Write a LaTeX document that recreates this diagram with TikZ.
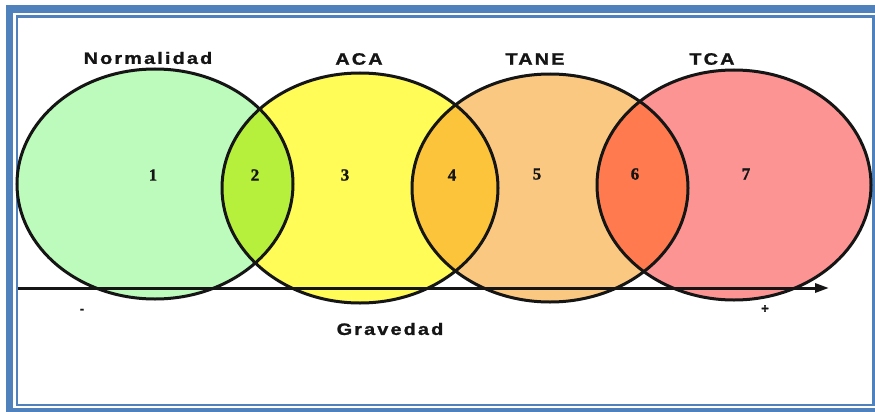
\documentclass[tikz,border=0pt]{standalone}
\usepackage{fontspec}
\setmainfont{Liberation Sans}
\newfontfamily\labfont[LetterSpace=11,FakeBold=1.2]{Liberation Sans Bold}
\newfontfamily\numfont[FakeBold=1.2]{Liberation Serif Bold}
\newfontfamily\sgnfont[FakeBold=1]{Liberation Sans Bold}
\usetikzlibrary{arrows.meta}
\definecolor{frameblue}{HTML}{4F81BD}
\definecolor{cgreen}{HTML}{BDFBBD}
\definecolor{cyellow}{HTML}{FFFB57}
\definecolor{corange}{HTML}{FBC882}
\definecolor{cred}{HTML}{FC9494}
\definecolor{cgy}{HTML}{B6F03C}
\definecolor{cyo}{HTML}{FBC43A}
\definecolor{cor}{HTML}{FF7A4E}
\definecolor{ink}{HTML}{151515}
\newcommand{\widetext}[1]{\scalebox{1.2}[1]{#1}}
\begin{document}
\begin{tikzpicture}[x=1pt,y=-1pt,
  lab/.style={font=\labfont\fontsize{16.5}{18}\selectfont, text=ink, inner sep=0pt},
  num/.style={font=\numfont\fontsize{17}{19}\selectfont, text=ink, inner sep=0pt},
  sgn/.style={font=\sgnfont\fontsize{13}{15}\selectfont, text=ink, inner sep=0pt},
  ring/.style={draw=ink, line width=3pt}]
\useasboundingbox (0,0) rectangle (875,412);
\clip (0,0) rectangle (875,412);
\fill[white] (0,0) rectangle (875,412);
% frame
\draw[frameblue, line width=7.5pt] (9.5,9) rectangle (880,411.5);
\draw[frameblue, line width=2.5pt] (17,16.5) rectangle (873.5,405);
% ellipses
\def\EA{(155,184) ellipse [x radius=138, y radius=115]}
\def\EB{(360,188) ellipse [x radius=138, y radius=115]}
\def\EC{(550,188) ellipse [x radius=138, y radius=114]}
\def\ED{(734,185) ellipse [x radius=137, y radius=115]}
\fill[cgreen] \EA;
\fill[cyellow] \EB;
\fill[corange] \EC;
\fill[cred] \ED;
\begin{scope}\clip \EA; \fill[cgy] \EB; \end{scope}
\begin{scope}\clip \EB; \fill[cyo] \EC; \end{scope}
\begin{scope}\clip \EC; \fill[cor] \ED; \end{scope}
\draw[ring] \EA;
\draw[ring] \EB;
\draw[ring] \EC;
\draw[ring] \ED;
% axis
\coordinate (axs) at (18,288);
\coordinate (axe) at (829,288);
\draw[ink, line width=3pt, -{Triangle[length=14pt,width=9pt]}] (axs) -- (axe);
% labels
\node[lab] (nor) at (148,58) {\widetext{Normalidad}};
\node[lab] (aca) at (359,59) {\widetext{ACA}};
\node[lab] (tane) at (535,59) {\widetext{TANE}};
\node[lab] (tca) at (712,59) {\widetext{TCA}};
\node[lab] (grav) at (390,329) {\widetext{Gravedad}};
\node[num] (n1) at (153,175) {1};
\node[num] (n2) at (255,175) {2};
\node[num] (n3) at (345,175) {3};
\node[num] (n4) at (452,175) {4};
\node[num] (n5) at (537,174) {5};
\node[num] (n6) at (635,174) {6};
\node[num] (n7) at (746,174) {7};
\node[sgn] (minus) at (82,311) {-};
\node[sgn] (plus) at (765,309) {+};
\end{tikzpicture}
\end{document}
